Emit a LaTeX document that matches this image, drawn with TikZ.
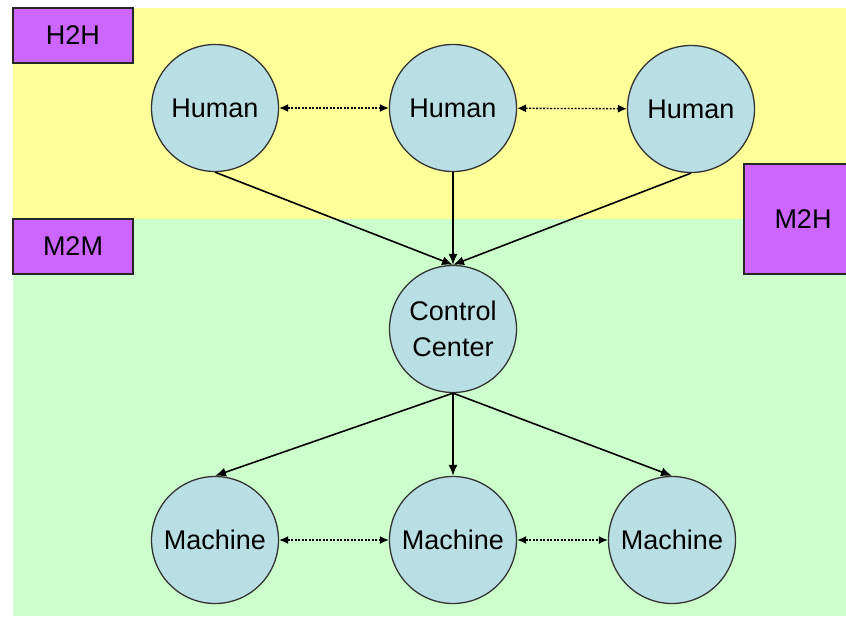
\documentclass[tikz,border=0pt]{standalone}
\usepackage{fontspec}
\setmainfont{Liberation Sans}
\usetikzlibrary{arrows.meta}
\definecolor{bgyellow}{RGB}{255,255,153}
\definecolor{bggreen}{RGB}{204,255,204}
\definecolor{nodeblue}{RGB}{185,223,228}
\definecolor{tagpurple}{RGB}{204,102,255}
\begin{document}
\begin{tikzpicture}[x=1pt,y=-1pt,
  entity/.style={circle, draw=black!80, line width=1.3pt, fill=nodeblue, minimum size=127pt, inner sep=0pt, font=\fontsize{27}{36}\selectfont, align=center},
  tag/.style={draw=black!85, line width=1.5pt, fill=tagpurple, inner sep=0pt, font=\fontsize{27}{32}\selectfont},
  flow/.style={-{Latex[length=11pt,width=9pt]}, line width=1.6pt},
  peer/.style={{Latex[length=9pt,width=8pt]}-{Latex[length=9pt,width=8pt]}, line width=1.3pt, dash pattern=on 2pt off 1.5pt}]
\useasboundingbox (0,0) rectangle (846,616);
\clip (0,0) rectangle (846,616);
\fill[white] (0,0) rectangle (846,616);
\fill[bgyellow] (13,8) rectangle (846,219);
\fill[bggreen] (13,219) rectangle (846,616);

\node[tag, minimum width=120pt, minimum height=55pt] (h2h) at (73,35.5) {H2H};
\node[tag, minimum width=120pt, minimum height=55pt] (m2m) at (73,246.5) {M2M};
\node[tag, minimum width=118pt, minimum height=110pt] (m2h) at (803,219) {M2H};

\node[entity] (h1) at (215,108) {Human};
\node[entity] (h2) at (453,108) {Human};
\node[entity] (h3) at (691,109) {Human};
\node[entity] (cc) at (453,329) {Control\\Center};
\node[entity] (m1) at (215,540) {Machine};
\node[entity] (m2) at (453,540) {Machine};
\node[entity] (m3) at (672,540) {Machine};

\draw[peer] (h1) -- (h2);
\draw[peer] (h2) -- (h3);
\draw[peer] (m1) -- (m2);
\draw[peer] (m2) -- (m3);

\draw[flow] (h1.south) -- (cc.north);
\draw[flow] (h2.south) -- (cc.north);
\draw[flow] (h3.south) -- (cc.north);
\draw[flow] (cc.south) -- (m1.north);
\draw[flow] (cc.south) -- (m2.north);
\draw[flow] (cc.south) -- (m3.north);
\end{tikzpicture}
\end{document}
